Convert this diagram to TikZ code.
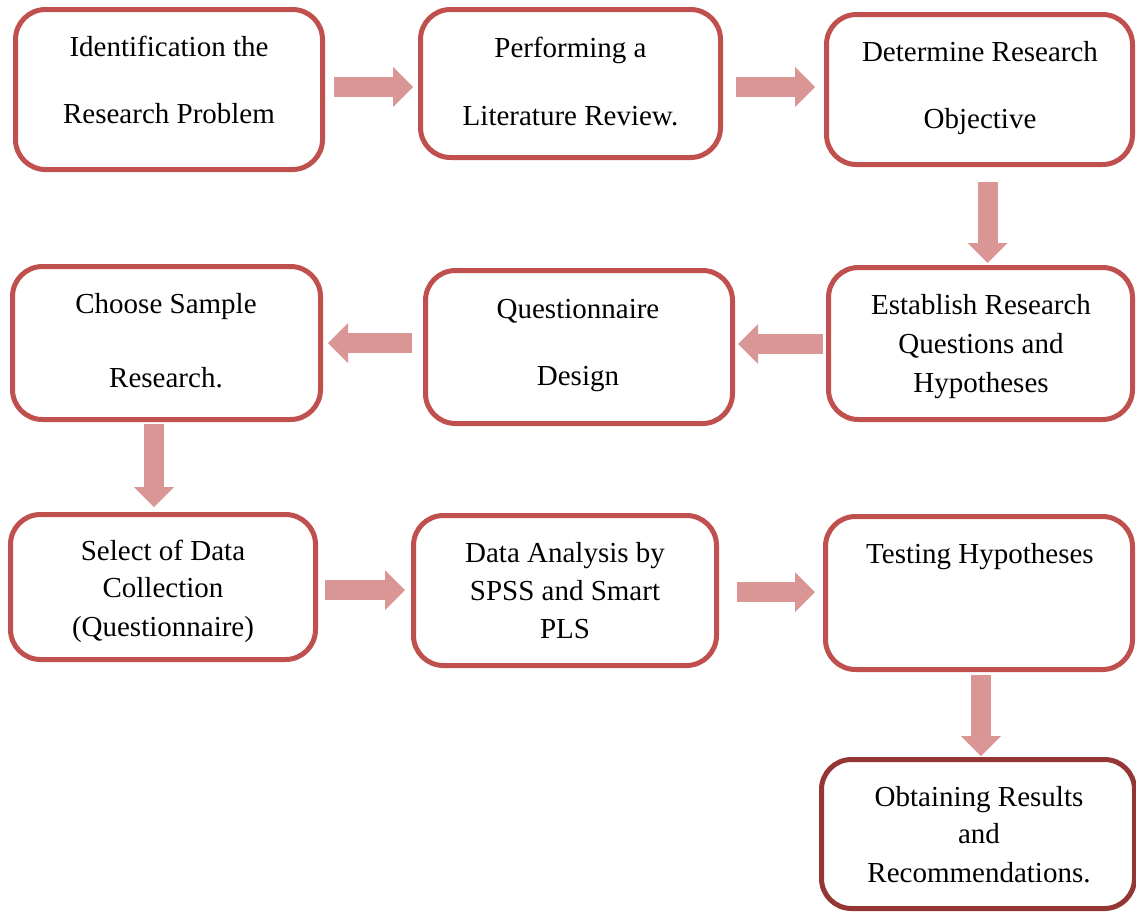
\documentclass[tikz,border=0pt]{standalone}
\usepackage{fontspec}
\setmainfont{Liberation Serif}
\usetikzlibrary{arrows.meta,calc}
\definecolor{boxred}{HTML}{C0504D}
\definecolor{boxdark}{HTML}{943634}
\definecolor{flowpink}{HTML}{D99694}
\tikzset{
  stage/.style={draw=boxred, line width=5pt, rounded corners=30pt, fill=white, inner sep=0pt},
  lastage/.style={stage, draw=boxdark},
  lbl/.style={anchor=base, inner sep=0pt, font=\fontsize{29}{35}\selectfont},
  flow/.style={draw=flowpink, line width=20pt,
    -{Triangle[length=20pt,width=40pt,line width=0pt]}},
}
\begin{document}
\begin{tikzpicture}[x=1pt,y=-1pt]
\useasboundingbox (0,0) rectangle (1136,911);

% stages of the research process
\node[stage, minimum width=307pt, minimum height=160pt] (b1) at (169,89.5) {};
\node[stage, minimum width=300pt, minimum height=148pt] (b2) at (570.5,83.5) {};
\node[stage, minimum width=306pt, minimum height=150pt] (b3) at (979.5,89.5) {};
\node[stage, minimum width=304pt, minimum height=152pt] (b4) at (980.5,343.5) {};
\node[stage, minimum width=307pt, minimum height=153pt] (b5) at (579,347) {};
\node[stage, minimum width=308pt, minimum height=153pt] (b6) at (166.5,343) {};
\node[stage, minimum width=305pt, minimum height=145pt] (b7) at (163,587) {};
\node[stage, minimum width=303pt, minimum height=150pt] (b8) at (565,590.5) {};
\node[stage, minimum width=307pt, minimum height=153pt] (b9) at (979,593) {};
\node[lastage, minimum width=313pt, minimum height=149pt] (b10) at (978,834) {};

% texts
\node[lbl] (t1a) at (169,56) {Identification the};
\node[lbl] (t1b) at (169,123) {Research Problem};
\node[lbl] (t2a) at (570.5,57) {Performing a};
\node[lbl] (t2b) at (570.5,125) {Literature Review.};
\node[lbl] (t3a) at (980,61) {Determine Research};
\node[lbl] (t3b) at (980,128) {Objective};
\node[lbl] (t4a) at (981,314) {Establish Research};
\node[lbl] (t4b) at (981,353) {Questions and};
\node[lbl] (t4c) at (981,392) {Hypotheses};
\node[lbl] (t5a) at (578,318) {Questionnaire};
\node[lbl] (t5b) at (578,385) {Design};
\node[lbl] (t6a) at (166,313) {Choose Sample};
\node[lbl] (t6b) at (166,387) {Research.};
\node[lbl] (t7a) at (163,560) {Select of Data};
\node[lbl] (t7b) at (163,597) {Collection};
\node[lbl] (t7c) at (163,636) {(Questionnaire)};
\node[lbl] (t8a) at (565,562) {Data Analysis by};
\node[lbl] (t8b) at (565,600) {SPSS and Smart};
\node[lbl] (t8c) at (565,638) {PLS};
\node[lbl] (t9a) at (980,563) {Testing Hypotheses};
\node[lbl] (t10a) at (979,806) {Obtaining Results};
\node[lbl] (t10b) at (979,843) {and};
\node[lbl] (t10c) at (979,882) {Recommendations.};

% block arrows between stages
\draw[flow] ($(b1.east)+(9,-2.5)$) -- ($(b2.west)+(-5,3.5)$);
\draw[flow] ($(b2.east)+(13,3.5)$) -- ($(b3.west)+(-9,-2.5)$);
\draw[flow] ($(b3.south)+(8,15)$) -- ($(b4.north)+(7,-2)$);
\draw[flow] ($(b4.west)+(-3,0.5)$) -- ($(b5.east)+(3,-3)$);
\draw[flow] ($(b5.west)+(-11,-4)$) -- ($(b6.east)+(5,0)$);
\draw[flow] ($(b6.south)+(-12.5,2)$) -- ($(b7.north)+(-9,-5)$);
\draw[flow] ($(b7.east)+(7,3)$) -- ($(b8.west)+(-6,-0.5)$);
\draw[flow] ($(b8.east)+(18,1.5)$) -- ($(b9.west)+(-8,-1)$);
\draw[flow] ($(b9.south)+(2,3)$) -- ($(b10.north)+(3,-1)$);
\end{tikzpicture}
\end{document}
